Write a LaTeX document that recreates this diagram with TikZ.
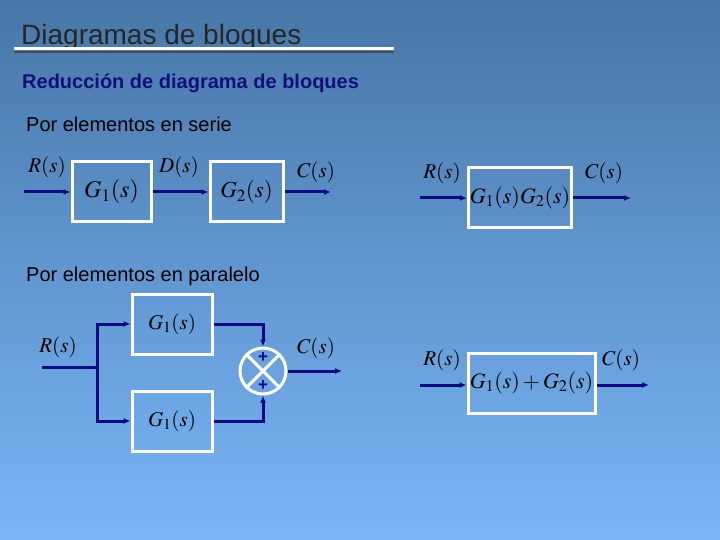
\documentclass[tikz,border=0pt]{standalone}
\usepackage{mathptmx}
\usepackage{fontspec}
\setmainfont{Liberation Sans}
\usetikzlibrary{arrows.meta}
\definecolor{bgtop}{RGB}{72,118,168}
\definecolor{bgbot}{RGB}{122,182,248}
\definecolor{navy}{RGB}{10,10,130}
\definecolor{titlenavy}{RGB}{16,16,120}
\tikzset{
  blk/.style={draw=white, line width=3pt, minimum width=#1, minimum height=60pt, inner sep=0pt, font=\fontsize{21}{21}\selectfont},
  sig/.style={draw=navy, line width=3pt, -{Latex[length=7pt,width=6pt]}},
  wire/.style={draw=navy, line width=3pt},
  lbl/.style={font=\fontsize{21}{21}\selectfont, inner sep=0pt},
  plus/.style={text=navy, font=\fontsize{17}{17}\selectfont\bfseries, inner sep=0pt},
  head/.style={anchor=base west, inner sep=0pt, font=\fontsize{20}{20}\selectfont},
}
\begin{document}
\begin{tikzpicture}[x=1pt,y=-1pt]
\shade[top color=bgtop, bottom color=bgbot] (0,0) rectangle (720,540);
\useasboundingbox (0,0) rectangle (720,540);
% title
\node[anchor=base west, inner sep=0pt, font=\fontsize{28}{28}\selectfont, text=black!85] (title) at (21,45) {Diagramas de bloques};
\draw[gray!60!black, line width=2pt] (14,52) -- (394,52);
\draw[white, line width=3.5pt] (14,48.5) -- (394,48.5);
\node[head, font=\fontsize{20}{20}\bfseries\selectfont, text=titlenavy] (sub) at (22,89) {Reducción de diagrama de bloques};
\node[head] (ser) at (26,132) {Por elementos en serie};
\node[head] (par) at (26,281) {Por elementos en paralelo};
% series
\coordinate (s0) at (24,192);
\node[blk=79pt, font=\fontsize{24}{24}\selectfont] (g1) at (111.5,192) {$G_1(s)$};
\node[blk=73pt, font=\fontsize{23}{23}\selectfont] (g2) at (246.5,192) {$G_2(s)$};
\coordinate (s3) at (331,192);
\draw[sig] (s0) -- (g1.west);
\draw[sig] (g1.east) -- (g2.west);
\draw[sig] (g2.east) -- (s3);
\node[lbl] (lr1) at (47,167) {$R(s)$};
\node[lbl] (ld1) at (179,167) {$D(s)$};
\node[lbl] (lc1) at (316,172) {$C(s)$};
% series reduced
\coordinate (t0) at (420,198);
\node[blk=103pt, font=\fontsize{22}{22}\selectfont] (g12) at (520,198) {$G_1(s)G_2(s)$};
\coordinate (t3) at (631,198);
\draw[sig] (t0) -- (g12.west);
\draw[sig] (g12.east) -- (t3);
\node[lbl] (lr2) at (442,173) {$R(s)$};
\node[lbl] (lc2) at (604,173) {$C(s)$};
% parallel
\coordinate (p0) at (42,367);
\coordinate (pb) at (97,367);
\node[blk=80pt] (ga) at (172,324) {$G_1(s)$};
\node[blk=80pt] (gb) at (172,421) {$G_1(s)$};
\node[circle, draw=white, line width=3pt, minimum size=46pt, inner sep=0pt] (sum) at (263,371) {};
\draw[white, line width=3pt] (sum.45) -- (sum.225) (sum.135) -- (sum.315);
\node[plus] (plus1) at (263,358) {+};
\node[plus] (plus2) at (263,386) {+};
\coordinate (p3) at (342,371);
\draw[wire] (p0) -- (pb);
\draw[sig] (pb) |- (ga.west);
\draw[sig] (pb) |- (gb.west);
\draw[sig] (ga.east) -| (sum.north);
\draw[sig] (gb.east) -| (sum.south);
\draw[sig] (sum.east) -- (p3);
\node[lbl] (lr3) at (58,347) {$R(s)$};
\node[lbl] (lc3) at (316,348) {$C(s)$};
% parallel reduced
\coordinate (q0) at (420,385);
\node[blk=127pt, font=\fontsize{22}{22}\selectfont] (gsum) at (531.5,383) {$G_1(s)+G_2(s)$};
\coordinate (q3) at (649,385);
\draw[sig] (q0) -- (gsum.west |- q0);
\draw[sig] (gsum.east |- q3) -- (q3);
\node[lbl] (lr4) at (442,360) {$R(s)$};
\node[lbl] (lc4) at (621,360) {$C(s)$};
\end{tikzpicture}
\end{document}
